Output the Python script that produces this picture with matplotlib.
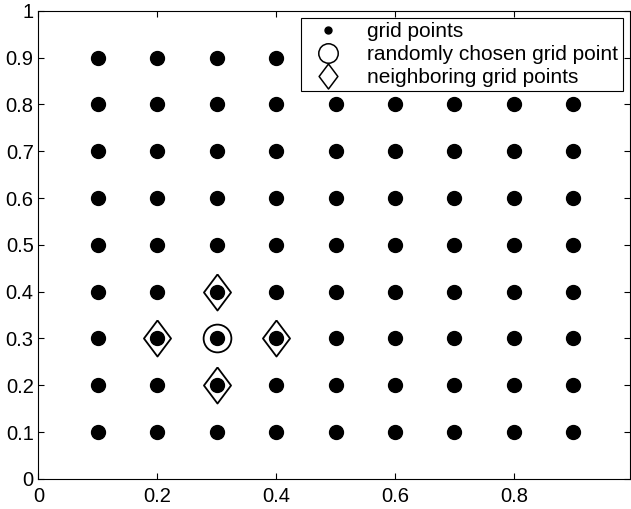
import matplotlib
matplotlib.use("Agg")
import matplotlib.pyplot as plt
from matplotlib.lines import Line2D
import numpy as np

plt.rcParams['font.family'] = ['Liberation Sans', 'DejaVu Sans']

grid_vals = [0.1, 0.2, 0.3, 0.4, 0.5, 0.6, 0.7, 0.8, 0.9]
chosen_x = [0.3]
chosen_y = [0.3]
neighbor_x = [0.2, 0.4, 0.3, 0.3]
neighbor_y = [0.3, 0.3, 0.2, 0.4]
xticks = [0, 0.2, 0.4, 0.6, 0.8]
yticks = [0, 0.1, 0.2, 0.3, 0.4, 0.5, 0.6, 0.7, 0.8, 0.9, 1]

gx, gy = np.meshgrid(grid_vals, grid_vals)

# tall diamond like the matlab one
diamond = [(0, 1), (0.75, 0), (0, -1), (-0.75, 0), (0, 1)]

fig = plt.figure(figsize=(6.31, 5.09), dpi=100)
ax = fig.add_axes([0.061, 0.059, 0.937, 0.920])

ax.plot(gx.ravel(), gy.ravel(), 'o', color='black', markersize=10, linestyle='none')
ax.plot(chosen_x, chosen_y, 'o', markerfacecolor='none', markeredgecolor='black',
        markersize=20, markeredgewidth=1.3, linestyle='none')
ax.plot(neighbor_x, neighbor_y, marker=diamond, markerfacecolor='none',
        markeredgecolor='black', markersize=26, markeredgewidth=1.3, linestyle='none')

ax.set_xlim(0, 0.995)
ax.set_ylim(0, 1)
ax.set_xticks(xticks)
ax.set_xticklabels([f"{t:g}" for t in xticks])
ax.set_yticks(yticks)
ax.set_yticklabels([f"{t:g}" for t in yticks])
ax.tick_params(direction='in', top=True, right=True, labelsize=14.5, length=4)
ax.tick_params(axis='x', pad=6)
ax.tick_params(axis='y', pad=3.5)

handles = [
    Line2D([], [], marker='o', color='black', markersize=5, linestyle='none'),
    Line2D([], [], marker='o', markerfacecolor='none', markeredgecolor='black',
           markersize=14, markeredgewidth=1.1, linestyle='none'),
    Line2D([], [], marker=diamond, markerfacecolor='none', markeredgecolor='black',
           markersize=18, markeredgewidth=1.1, linestyle='none'),
]
labels = ['grid points', 'randomly chosen grid point', 'neighboring grid points']
leg = ax.legend(handles, labels, loc='upper right', fontsize=15, frameon=True,
                fancybox=False, edgecolor='black', framealpha=1,
                borderpad=0.2, labelspacing=0.18, handletextpad=0.8,
                handlelength=2.2, borderaxespad=0.0, bbox_to_anchor=(0.988, 0.984))
leg.get_frame().set_linewidth(0.8)

fig.savefig("out.png", dpi=100)
